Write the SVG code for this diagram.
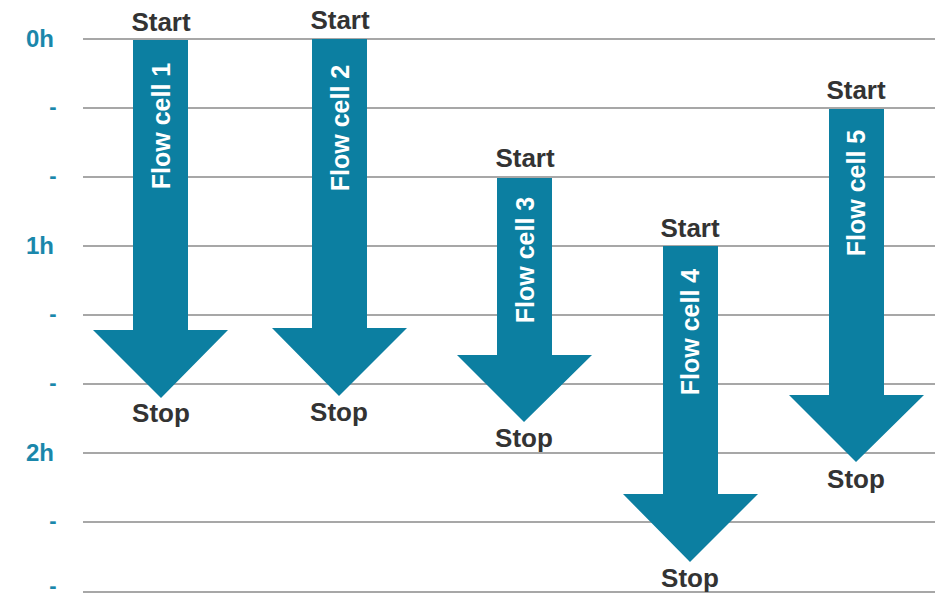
<svg xmlns="http://www.w3.org/2000/svg" width="946" height="597" viewBox="0 0 946 597">
  <style>
    .grid { stroke: #8a8a8a; stroke-width: 1.5; fill: none; }
    .axis { font-family: "Liberation Sans", Arial, sans-serif; font-weight: bold; font-size: 24px; fill: #1a87ab; text-anchor: middle; }
    .tick { font-family: "Liberation Sans", Arial, sans-serif; font-weight: bold; font-size: 22px; fill: #1a87ab; text-anchor: middle; }
    .arrow { fill: #0c7fa1; }
    .lbl { font-family: "Liberation Sans", Arial, sans-serif; font-weight: bold; font-size: 26px; fill: #333333; text-anchor: middle; }
    .cell { font-family: "Liberation Sans", Arial, sans-serif; font-weight: bold; font-size: 25px; fill: #ffffff; text-anchor: middle; dominant-baseline: central; }
  </style>

  <!-- time grid -->
  <g id="grid">
    <line class="grid" x1="83" y1="39" x2="935" y2="39"/>
    <line class="grid" x1="83" y1="108" x2="935" y2="108"/>
    <line class="grid" x1="83" y1="177" x2="935" y2="177"/>
    <line class="grid" x1="83" y1="246" x2="935" y2="246"/>
    <line class="grid" x1="83" y1="315" x2="935" y2="315"/>
    <line class="grid" x1="83" y1="384" x2="935" y2="384"/>
    <line class="grid" x1="83" y1="453" x2="935" y2="453"/>
    <line class="grid" x1="83" y1="522" x2="935" y2="522"/>
    <line class="grid" x1="83" y1="592" x2="935" y2="592"/>
  </g>

  <!-- time axis labels -->
  <g id="axis">
    <text class="axis" x="40" y="47">0h</text>
    <text class="tick" x="53" y="114">-</text>
    <text class="tick" x="53" y="183">-</text>
    <text class="axis" x="40" y="254">1h</text>
    <text class="tick" x="53" y="321">-</text>
    <text class="tick" x="53" y="390">-</text>
    <text class="axis" x="40" y="461">2h</text>
    <text class="tick" x="53" y="528">-</text>
    <text class="tick" x="53" y="593">-</text>
  </g>

  <!-- flow cell runs -->
  <g id="flowcell1">
    <path class="arrow" d="M133 40 H188 V330 H228 L161 398 L93 330 H133 Z"/>
    <text class="lbl" x="161" y="31">Start</text>
    <text class="cell" transform="translate(161 126) rotate(-90)">Flow cell 1</text>
    <text class="lbl" x="161" y="422">Stop</text>
  </g>

  <g id="flowcell2">
    <path class="arrow" d="M312 39 H367 V328 H407 L339 396 L272 328 H312 Z"/>
    <text class="lbl" x="340" y="29">Start</text>
    <text class="cell" transform="translate(340 128) rotate(-90)">Flow cell 2</text>
    <text class="lbl" x="339" y="421">Stop</text>
  </g>

  <g id="flowcell3">
    <path class="arrow" d="M497 178 H552 V355 H592 L524 422 L457 355 H497 Z"/>
    <text class="lbl" x="525" y="167">Start</text>
    <text class="cell" transform="translate(525 260) rotate(-90)">Flow cell 3</text>
    <text class="lbl" x="524" y="447">Stop</text>
  </g>

  <g id="flowcell4">
    <path class="arrow" d="M663 246 H718 V494 H758 L690 562 L623 494 H663 Z"/>
    <text class="lbl" x="690" y="237">Start</text>
    <text class="cell" transform="translate(690 332) rotate(-90)">Flow cell 4</text>
    <text class="lbl" x="690" y="587">Stop</text>
  </g>

  <g id="flowcell5">
    <path class="arrow" d="M829 109 H884 V395 H924 L856 462 L789 395 H829 Z"/>
    <text class="lbl" x="856" y="99">Start</text>
    <text class="cell" transform="translate(856 193) rotate(-90)">Flow cell 5</text>
    <text class="lbl" x="856" y="488">Stop</text>
  </g>
</svg>
